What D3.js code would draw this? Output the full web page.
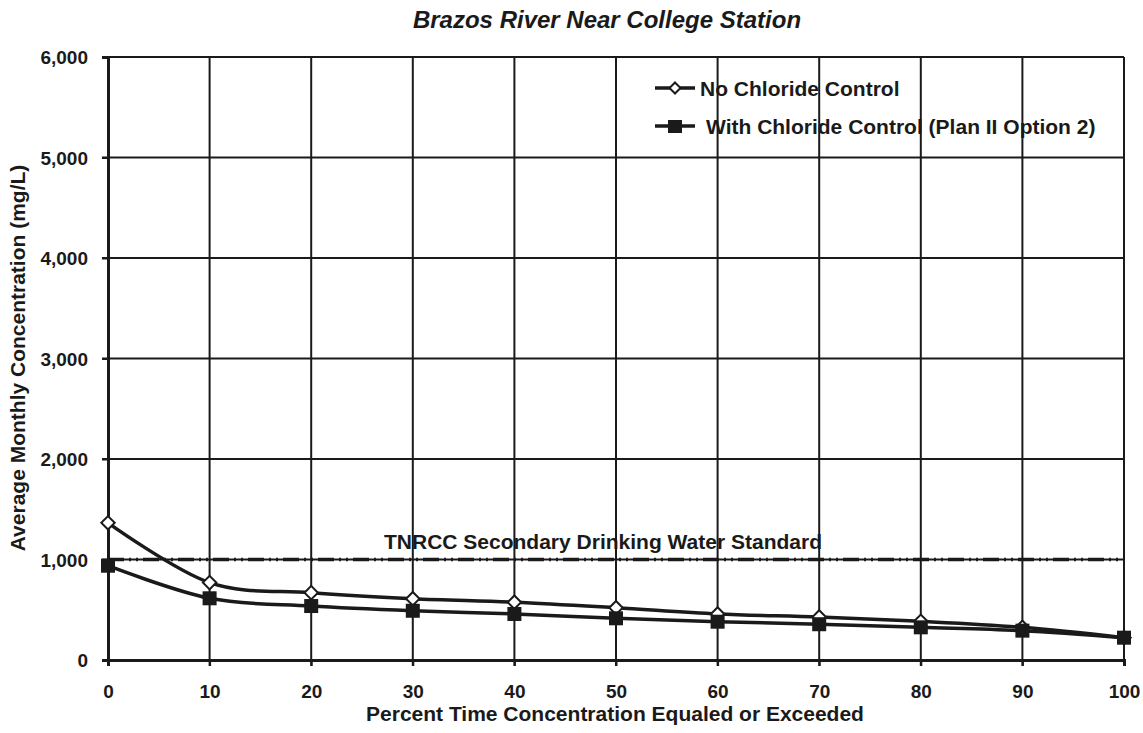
<!DOCTYPE html>
<html>
<head>
<meta charset="utf-8">
<script src="https://cdn.jsdelivr.net/npm/d3@7"></script>
<style>
  body { margin: 0; background: #fff; }
  svg text { font-family: "Liberation Sans", Arial, sans-serif; font-weight: bold; fill: #1a1a1a; }
</style>
</head>
<body>
<div id="chart"></div>
<script>
// percent exceedance (x) and concentrations (mg/L)
const percents = [0, 10, 20, 30, 40, 50, 60, 70, 80, 90, 100];
const noControl = [1365, 770, 670, 610, 575, 520, 458, 428, 385, 325, 222];
const withControl = [938, 614, 537, 490, 458, 415, 381, 356, 325, 292, 222];
const standardValue = 1000;
const yTicks = [0, 1000, 2000, 3000, 4000, 5000, 6000];
const xTicks = [0, 10, 20, 30, 40, 50, 60, 70, 80, 90, 100];
const seriesNames = ["No Chloride Control", "With Chloride Control (Plan II Option 2)"];

const W = 1143, H = 733;
const margin = {top: 57, right: 19, bottom: 73, left: 108};
const ink = "#1a1a1a";

const svg = d3.select("#chart").append("svg")
  .attr("width", W).attr("height", H);

const x = d3.scaleLinear().domain([0, 100]).range([margin.left, W - margin.right]);
const y = d3.scaleLinear().domain([0, 6000]).range([H - margin.bottom, margin.top]);

// grid
const grid = svg.append("g");
grid.selectAll(".vg").data(xTicks.slice(1)).enter().append("line")
  .attr("x1", d => x(d)).attr("x2", d => x(d))
  .attr("y1", y(6000)).attr("y2", y(0) + 6)
  .attr("stroke", ink).attr("stroke-width", 2);
grid.selectAll(".hg").data(yTicks.slice(1)).enter().append("line")
  .attr("x1", x(0) - 6).attr("x2", x(100))
  .attr("y1", d => y(d)).attr("y2", d => y(d))
  .attr("stroke", ink).attr("stroke-width", 2);

// axes
const xAxis = svg.append("g").attr("transform", `translate(0,${y(0)})`)
  .call(d3.axisBottom(x).tickValues(xTicks).tickSize(6).tickPadding(20));
const yAxis = svg.append("g").attr("transform", `translate(${x(0)},0)`)
  .call(d3.axisLeft(y).tickValues(yTicks).tickSize(6).tickPadding(14).tickFormat(d3.format(",")));
[xAxis, yAxis].forEach(a => {
  a.select(".domain").attr("stroke", ink).attr("stroke-width", 3);
  a.selectAll(".tick line").attr("stroke", ink).attr("stroke-width", 2);
  a.selectAll("text").style("font-size", "19px").attr("fill", ink);
});
xAxis.selectAll("text").attr("dy", "0.62em");
yAxis.selectAll("text").attr("dy", "0.36em");

// standard line
svg.append("line")
  .attr("x1", x(0)).attr("x2", x(100))
  .attr("y1", y(standardValue)).attr("y2", y(standardValue))
  .attr("stroke", ink).attr("stroke-width", 3.5)
  .attr("stroke-dasharray", "16,5,2,5,2,5");
svg.append("text")
  .attr("x", 603).attr("y", y(standardValue) - 11)
  .attr("text-anchor", "middle").style("font-size", "21px")
  .text("TNRCC Secondary Drinking Water Standard");

// series
const line = d3.line().x(d => x(d[0])).y(d => y(d[1])).curve(d3.curveCardinal.tension(0));
const dataNo = percents.map((p, i) => [p, noControl[i]]);
const dataWith = percents.map((p, i) => [p, withControl[i]]);

svg.append("path").datum(dataWith).attr("d", line)
  .attr("fill", "none").attr("stroke", ink).attr("stroke-width", 3.5);
svg.append("path").datum(dataNo).attr("d", line)
  .attr("fill", "none").attr("stroke", ink).attr("stroke-width", 3.5);

const diamond = d3.symbol().type(d3.symbolSquare).size(90);
svg.selectAll(".dm").data(dataNo).enter().append("path")
  .attr("d", diamond)
  .attr("transform", d => `translate(${x(d[0])},${y(d[1])}) rotate(45)`)
  .attr("fill", "#fff").attr("stroke", ink).attr("stroke-width", 2);
svg.selectAll(".sq").data(dataWith).enter().append("rect")
  .attr("x", d => x(d[0]) - 7).attr("y", d => y(d[1]) - 7)
  .attr("width", 14).attr("height", 14).attr("fill", ink);

// legend
const legend = svg.append("g");
legend.append("line").attr("x1", 655).attr("x2", 695).attr("y1", 88).attr("y2", 88)
  .attr("stroke", ink).attr("stroke-width", 3.5);
legend.append("path").attr("d", d3.symbol().type(d3.symbolSquare).size(60))
  .attr("transform", "translate(675,88) rotate(45)")
  .attr("fill", "#fff").attr("stroke", ink).attr("stroke-width", 2);
legend.append("text").attr("x", 700).attr("y", 95.5).style("font-size", "21px").text(seriesNames[0]);
legend.append("line").attr("x1", 655).attr("x2", 695).attr("y1", 126).attr("y2", 126)
  .attr("stroke", ink).attr("stroke-width", 3.5);
legend.append("rect").attr("x", 668).attr("y", 120).attr("width", 14).attr("height", 13).attr("fill", ink);
legend.append("text").attr("x", 706).attr("y", 133.5).style("font-size", "21px").text(seriesNames[1]);

// titles
svg.append("text").attr("x", 607).attr("y", 28).attr("text-anchor", "middle")
  .style("font-size", "24px").style("font-style", "italic")
  .text("Brazos River Near College Station");
svg.append("text").attr("x", 615).attr("y", 721).attr("text-anchor", "middle")
  .style("font-size", "21px")
  .text("Percent Time Concentration Equaled or Exceeded");
svg.append("text").attr("transform", "translate(25,358) rotate(-90)").attr("text-anchor", "middle")
  .style("font-size", "21px")
  .text("Average Monthly Concentration (mg/L)");
</script>
</body>
</html>
